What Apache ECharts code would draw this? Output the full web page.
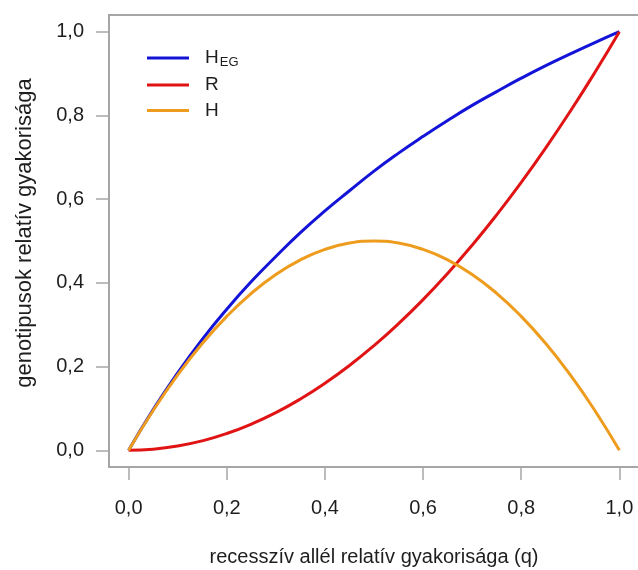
<!DOCTYPE html>
<html>
<head>
<meta charset="utf-8">
<script src="https://cdn.jsdelivr.net/npm/echarts@6/dist/echarts.min.js"></script>
<style>
  html, body { margin: 0; padding: 0; background: #fff; }
  #chart { width: 638px; height: 570px; }
</style>
</head>
<body>
<div id="chart"></div>
<script>
// recessive allele frequency q
const qValues = [0, 0.05, 0.1, 0.15, 0.2, 0.25, 0.3, 0.35, 0.4, 0.45, 0.5,
                 0.55, 0.6, 0.65, 0.7, 0.75, 0.8, 0.85, 0.9, 0.95, 1];
// H_EG
const hegValues = [0, 0.097, 0.185, 0.265, 0.337, 0.403, 0.463, 0.52, 0.572, 0.62, 0.667,
                   0.71, 0.75, 0.788, 0.824, 0.857, 0.889, 0.919, 0.947, 0.974, 1];
// R: recessive homozygote frequency
const rValues = [0, 0.0025, 0.01, 0.0225, 0.04, 0.0625, 0.09, 0.1225, 0.16, 0.2025, 0.25,
                 0.3025, 0.36, 0.4225, 0.49, 0.5625, 0.64, 0.7225, 0.81, 0.9025, 1];
// H: heterozygote frequency
const hValues = [0, 0.095, 0.18, 0.255, 0.32, 0.375, 0.42, 0.455, 0.48, 0.495, 0.5,
                 0.495, 0.48, 0.455, 0.42, 0.375, 0.32, 0.255, 0.18, 0.095, 0];

const tickValues = [0, 0.2, 0.4, 0.6, 0.8, 1.0];
const seriesNames = ['HEG', 'R', 'H'];
const seriesColors = ['#1414d8', '#e01414', '#ee9c1e'];

const pairs = vals => qValues.map((q, i) => [q, vals[i]]);
const fmt = v => v.toFixed(1).replace('.', ',');

const FONT = '"Liberation Sans", Arial, sans-serif';
const GRAY = '#a6a6a6';
const TEXT = '#1e1e1e';

const chart = echarts.init(document.getElementById('chart'), null, { renderer: 'canvas' });

const axisCommon = {
  type: 'value',
  min: -0.04,
  max: 1.04,
  nameLocation: 'middle',
  axisLine: { show: false, onZero: false },
  axisTick: { show: true, inside: false, length: 13, lineStyle: { color: GRAY, width: 1.5 }, customValues: tickValues },
  axisLabel: { fontFamily: FONT, fontSize: 20, color: TEXT, customValues: tickValues, formatter: fmt },
  splitLine: { show: false }
};

chart.setOption({
  animation: false,
  backgroundColor: '#fff',
  grid: {
    left: 109, top: 15, width: 530, height: 452,
    outerBoundsMode: 'none',
    containLabel: false,
    show: true, borderColor: GRAY, borderWidth: 2, backgroundColor: 'transparent'
  },
  xAxis: Object.assign({}, axisCommon, {
    name: 'recesszív allél relatív gyakorisága (q)',
    nameGap: 80,
    nameTextStyle: { fontFamily: FONT, fontSize: 20, color: TEXT },
    axisLabel: Object.assign({}, axisCommon.axisLabel, { margin: 31 })
  }),
  yAxis: Object.assign({}, axisCommon, {
    name: 'genotipusok relatív gyakorisága',
    nameGap: 73,
    nameTextStyle: { fontFamily: FONT, fontSize: 22, color: TEXT, padding: [0, 0, 0, 16] },
    axisLabel: Object.assign({}, axisCommon.axisLabel, { margin: 25 })
  }),
  legend: {
    orient: 'vertical',
    left: 147,
    top: 47,
    padding: 0,
    icon: 'rect',
    itemWidth: 42,
    itemHeight: 3,
    itemGap: 6.5,
    data: seriesNames,
    formatter: name => name === 'HEG' ? '{a|H}{b|EG}' : '{a|' + name + '}',
    textStyle: {
      padding: [0, 0, 0, 11],
      rich: {
        a: { fontFamily: FONT, fontSize: 19, color: TEXT, lineHeight: 19 },
        b: { fontFamily: FONT, fontSize: 13, color: TEXT, padding: [9, 0, 0, 1], lineHeight: 19 }
      }
    }
  },
  series: [hegValues, rValues, hValues].map((vals, i) => ({
    name: seriesNames[i],
    type: 'line',
    data: pairs(vals),
    smooth: true,
    showSymbol: false,
    lineStyle: { color: seriesColors[i], width: 3 },
    itemStyle: { color: seriesColors[i] }
  }))
});
</script>
</body>
</html>
